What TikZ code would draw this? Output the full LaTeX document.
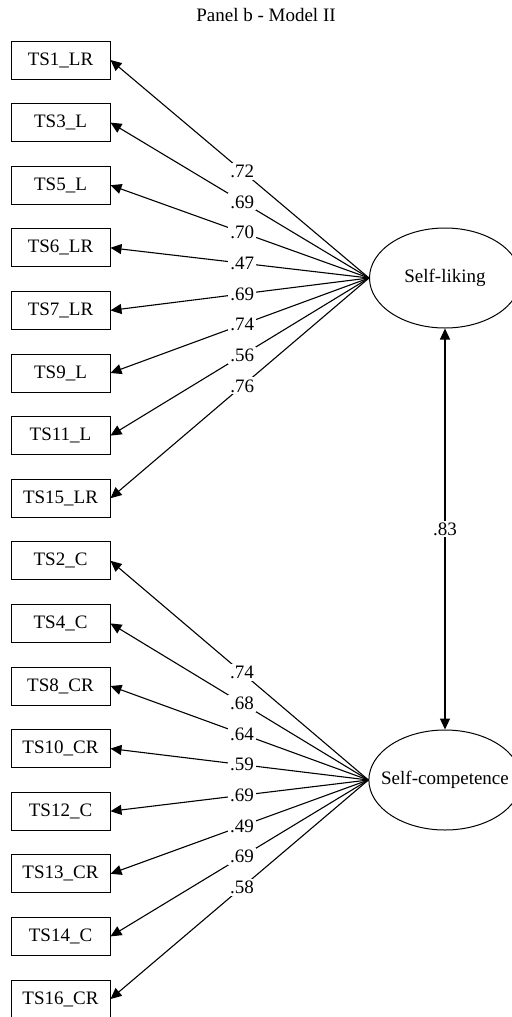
\documentclass[tikz,border=0pt]{standalone}
\usepackage{fontspec}
\setmainfont{Liberation Serif}
\usetikzlibrary{shapes.geometric,arrows.meta,positioning}

\begin{document}
\begin{tikzpicture}[x=0.5pt,y=-0.5pt,
  ind/.style={draw, line width=0.5pt, minimum width=49.5pt,
              minimum height=19pt, inner sep=0pt,
              font=\fontsize{9.5}{11}\selectfont},
  lat/.style={draw, ellipse, line width=0.5pt, minimum width=75.5pt,
              minimum height=50pt, inner ysep=0pt, inner xsep=-5pt,
              font=\fontsize{9.5}{11}\selectfont},
  arr/.style={-{Triangle[length=5.5pt,width=5pt]},line width=0.55pt},
  dbl/.style={{Triangle[length=5.5pt,width=5pt]}-{Triangle[length=5.5pt,width=5pt]},
              line width=0.55pt},
  lbl/.style={fill=white, inner sep=1pt, pos=.49,
              font=\fontsize{9.5}{11}\selectfont}
]
  \useasboundingbox (0,0) rectangle (512,1017);
  \node[font=\fontsize{9.5}{11}\selectfont] (title) at (266,15)
    {Panel b - Model II};

  % Self-liking items
  \node[ind] (ts1)  at (60.5,60)    {TS1\_LR};
  \node[ind] (ts3)  at (60.5,122.6) {TS3\_L};
  \node[ind] (ts5)  at (60.5,185.2) {TS5\_L};
  \node[ind] (ts6)  at (60.5,247.8) {TS6\_LR};
  \node[ind] (ts7)  at (60.5,310.4) {TS7\_LR};
  \node[ind] (ts9)  at (60.5,373)   {TS9\_L};
  \node[ind] (ts11) at (60.5,435.6) {TS11\_L};
  \node[ind] (ts15) at (60.5,498.2) {TS15\_LR};

  % Self-competence items
  \node[ind] (ts2)  at (60.5,560.8) {TS2\_C};
  \node[ind] (ts4)  at (60.5,623.4) {TS4\_C};
  \node[ind] (ts8)  at (60.5,686)   {TS8\_CR};
  \node[ind] (ts10) at (60.5,748.6) {TS10\_CR};
  \node[ind] (ts12) at (60.5,811.2) {TS12\_C};
  \node[ind] (ts13) at (60.5,873.8) {TS13\_CR};
  \node[ind] (ts14) at (60.5,936.4) {TS14\_C};
  \node[ind] (ts16) at (60.5,999)   {TS16\_CR};

  \node[lat] (sl) at (445,278) {Self-liking};
  \node[lat] (sc) at (445,780) {Self-competence};

  \draw[arr] (sl.west) -- node[lbl] {.72} (ts1.east);
  \draw[arr] (sl.west) -- node[lbl] {.69} (ts3.east);
  \draw[arr] (sl.west) -- node[lbl] {.70} (ts5.east);
  \draw[arr] (sl.west) -- node[lbl] {.47} (ts6.east);
  \draw[arr] (sl.west) -- node[lbl] {.69} (ts7.east);
  \draw[arr] (sl.west) -- node[lbl] {.74} (ts9.east);
  \draw[arr] (sl.west) -- node[lbl] {.56} (ts11.east);
  \draw[arr] (sl.west) -- node[lbl] {.76} (ts15.east);

  \draw[arr] (sc.west) -- node[lbl] {.74} (ts2.east);
  \draw[arr] (sc.west) -- node[lbl] {.68} (ts4.east);
  \draw[arr] (sc.west) -- node[lbl] {.64} (ts8.east);
  \draw[arr] (sc.west) -- node[lbl] {.59} (ts10.east);
  \draw[arr] (sc.west) -- node[lbl] {.69} (ts12.east);
  \draw[arr] (sc.west) -- node[lbl] {.49} (ts13.east);
  \draw[arr] (sc.west) -- node[lbl] {.69} (ts14.east);
  \draw[arr] (sc.west) -- node[lbl] {.58} (ts16.east);

  % correlation
  \draw[dbl] (sl.south) -- node[lbl,pos=.5] {.83} (sc.north);
\end{tikzpicture}
\end{document}
